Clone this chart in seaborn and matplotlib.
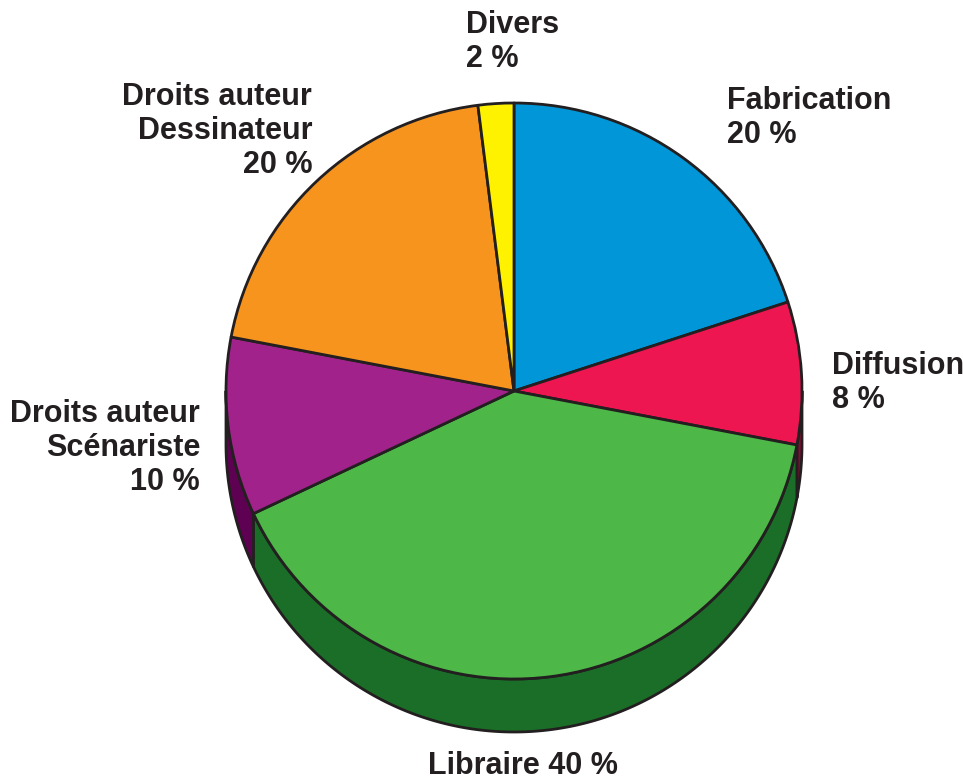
import numpy as np
import matplotlib
matplotlib.use("Agg")
import matplotlib.pyplot as plt
import seaborn as sns

sns.set_theme(style="white")
plt.rcParams['font.family'] = ['Liberation Sans', 'DejaVu Sans']

categories = ["Fabrication", "Diffusion", "Libraire", "Droits auteur\nScénariste",
              "Droits auteur\nDessinateur", "Divers"]
values = [20, 8, 40, 10, 20, 2]
top_colors = ["#0096D7", "#ED1651", "#4DB848", "#A1228B", "#F7941E", "#FFF200"]
side_colors = ["#0A5F8A", "#8C0A33", "#1B6E27", "#5F0152", "#9A5A0F", "#A09800"]

W, H = 963, 780
cx, cy = 514, 780 - 391
R = 288
depth = 53
edge = "#231F20"

fig = plt.figure(figsize=(W / 100, H / 100), dpi=100)
ax = fig.add_axes([0, 0, 1, 1])

# side (extrusion) of the pie
total = sum(values)
start = 90.0
for v, sc in zip(values, side_colors):
    a1 = start
    a2 = start - 360.0 * v / total
    start = a2
    lo = max(min(a1, a2), -180.0)
    hi = min(max(a1, a2), 0.0)
    if lo < hi:
        th = np.radians(np.linspace(lo, hi, 200))
        xs_top = cx + R * np.cos(th)
        ys_top = cy + R * np.sin(th)
        xs = np.concatenate([xs_top, xs_top[::-1]])
        ys = np.concatenate([ys_top, (ys_top - depth)[::-1]])
        ax.fill(xs, ys, facecolor=sc, edgecolor=edge, linewidth=2, zorder=1,
                joinstyle="round")

ax.pie(values, colors=top_colors, startangle=90, counterclock=False,
       center=(cx, cy), radius=R, frame=True,
       wedgeprops=dict(edgecolor=edge, linewidth=2, joinstyle="round"))
ax.set_xlim(0, W)
ax.set_ylim(0, H)
ax.set_aspect("equal")
ax.axis("off")

fs = 22
tc = edge
ls = 1.16
ax.text(466, H - 42, f"{categories[5]}\n{values[5]} %", ha="left", va="center",
        fontsize=fs, fontweight="bold", color=tc, linespacing=ls)
ax.text(727, H - 118, f"{categories[0]}\n{values[0]} %", ha="left", va="center",
        fontsize=fs, fontweight="bold", color=tc, linespacing=ls)
ax.text(832, H - 383, f"{categories[1]}\n{values[1]} %", ha="left", va="center",
        fontsize=fs, fontweight="bold", color=tc, linespacing=ls)
ax.text(523, H - 766, f"{categories[2]} {values[2]} %", ha="center", va="center",
        fontsize=fs, fontweight="bold", color=tc, linespacing=ls)
ax.text(200, H - 448, f"{categories[3]}\n{values[3]} %", ha="right", va="center",
        fontsize=fs, fontweight="bold", color=tc, linespacing=ls, multialignment="right")
ax.text(312, H - 131, f"{categories[4]}\n{values[4]} %", ha="right", va="center",
        fontsize=fs, fontweight="bold", color=tc, linespacing=ls, multialignment="right")

fig.savefig("out.png", dpi=100, facecolor="white")
